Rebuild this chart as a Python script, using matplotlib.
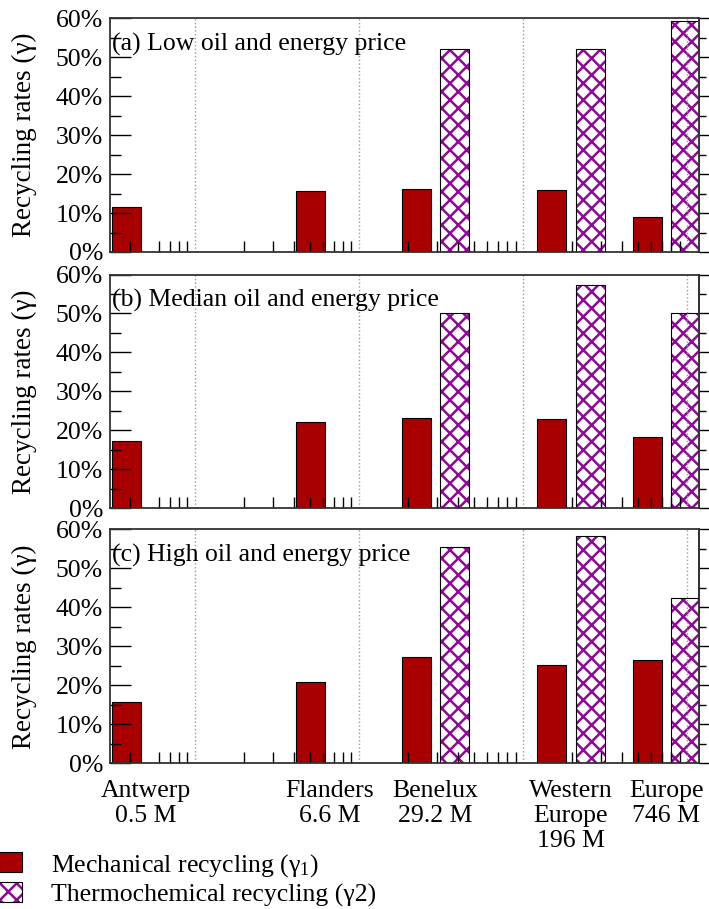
import matplotlib
matplotlib.use('Agg')
import matplotlib.pyplot as plt
import numpy as np
from matplotlib.patches import Patch
from matplotlib.ticker import FixedLocator, LogLocator, MultipleLocator, NullFormatter, PercentFormatter

plt.rcParams['font.family'] = ['Liberation Serif', 'DejaVu Serif']
plt.rcParams['mathtext.fontset'] = 'custom'
plt.rcParams['mathtext.rm'] = 'Liberation Serif'
plt.rcParams['mathtext.it'] = 'Liberation Serif:italic'
plt.rcParams['hatch.linewidth'] = 1.8

# Regions and their population (million inhabitants)
regions = ['Antwerp\n0.5 M', 'Flanders\n6.6 M', 'Benelux\n29.2 M', 'Western\nEurope\n196 M', 'Europe\n746 M']
population = [0.5, 6.6, 29.2, 196, 746]
decades = [1, 10, 100, 1000]

panel_titles = ['(a) Low oil and energy price',
                '(b) Median oil and energy price',
                '(c) High oil and energy price']

# Recycling rates in % (nan = no thermochemical recycling)
mech_low = [11.5, 15.6, 16.2, 16.0, 9.1]
mech_median = [17.3, 22.0, 23.1, 22.9, 18.3]
mech_high = [15.8, 20.7, 27.3, 25.2, 26.4]
thermo_low = [np.nan, np.nan, 52.1, 52.2, 59.4]
thermo_median = [np.nan, np.nan, 50.1, 57.2, 50.1]
thermo_high = [np.nan, np.nan, 55.5, 58.3, 42.3]

mechanical = [mech_low, mech_median, mech_high]
thermochemical = [thermo_low, thermo_median, thermo_high]

red = '#a80000'
purple = '#8c0a94'
fs = 18.5

fig = plt.figure(figsize=(7.09, 9.09), dpi=100)
bottoms = [0.7228, 0.4411, 0.1606]

# bar geometry in decades (log axis)
gap = 0.028
w = 0.177
pop = np.array(population)

for i in range(3):
    ax = fig.add_axes([0.155, bottoms[i], 0.831, 0.2569])
    ax.set_xscale('log')
    ax.set_xlim(0.303, 1184)
    ax.set_ylim(0, 60)

    # Mechanical bars left of the population position
    left = pop * 10 ** (-gap - w)
    right = pop * 10 ** (-gap)
    ax.bar(left, mechanical[i], right - left, align='edge', color=red,
           edgecolor='black', linewidth=0.8)

    # Thermochemical bars right of the population position
    th = np.array(thermochemical[i])
    ok = ~np.isnan(th)
    left = pop[ok] * 10 ** gap
    right = pop[ok] * 10 ** (gap + w)
    ax.bar(left, th[ok], right - left, align='edge', color='white',
           edgecolor=purple, hatch='xx', linewidth=0)
    ax.bar(left, th[ok], right - left, align='edge', fill=False,
           edgecolor='black', linewidth=0.8)

    for d in decades:
        ax.axvline(d, color='#999999', linestyle=':', linewidth=1, zorder=1.5)

    # x ticks
    ax.xaxis.set_major_locator(FixedLocator(population))
    ax.xaxis.set_minor_locator(LogLocator(base=10, subs=np.arange(2, 10), numticks=30))
    ax.xaxis.set_minor_formatter(NullFormatter())
    if i == 2:
        ax.set_xticklabels(regions, fontsize=fs, linespacing=1.2)
    else:
        ax.set_xticklabels([])
    ax.tick_params(axis='x', which='major', length=0, pad=12)
    ax.tick_params(axis='x', which='minor', direction='in', length=8, width=1, top=False)

    # y ticks
    ax.yaxis.set_major_locator(MultipleLocator(10))
    ax.yaxis.set_minor_locator(MultipleLocator(5))
    ax.yaxis.set_major_formatter(PercentFormatter(decimals=0))
    ax.tick_params(axis='y', which='major', direction='in', length=15, width=1,
                   labelsize=fs, pad=5)
    ax.tick_params(axis='y', which='minor', direction='in', length=8, width=1)

    sec = ax.secondary_yaxis('right')
    sec.yaxis.set_major_locator(MultipleLocator(10))
    sec.yaxis.set_minor_locator(MultipleLocator(5))
    sec.yaxis.set_major_formatter(NullFormatter())
    sec.tick_params(which='major', direction='out', length=12, width=1)
    sec.tick_params(which='minor', direction='out', length=5, width=1)
    sec.spines['right'].set_linewidth(1.3)
    sec.spines['right'].set_color('#333333')

    for s in ax.spines.values():
        s.set_linewidth(1.3)
        s.set_color('#333333')

    ax.set_ylabel('Recycling rates (γ)', fontsize=19.5)
    ax.yaxis.set_label_coords(-0.124, 0.5)

    ax.text(0.004, 0.89, panel_titles[i], transform=ax.transAxes,
            ha='left', va='center', fontsize=fs)

# Legend below the panels
h_mech = Patch(facecolor=red, edgecolor='black', linewidth=0.8)
h_thermo = (Patch(facecolor='white', edgecolor=purple, hatch='xx', linewidth=0),
            Patch(fill=False, edgecolor='black', linewidth=0.8))
fig.legend([h_mech, h_thermo],
           ['Mechanical recycling (γ$_1$)', 'Thermochemical recycling (γ2)'],
           loc='upper left', bbox_to_anchor=(-0.002, 0.063), frameon=False,
           fontsize=fs, handlelength=0.9, handleheight=0.8, handletextpad=1.15,
           borderpad=0, borderaxespad=0, labelspacing=0.15)

fig.savefig('out.png', dpi=100)
